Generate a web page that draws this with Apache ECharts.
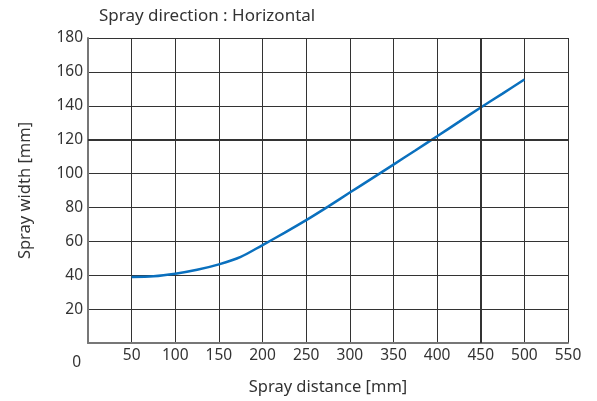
<!DOCTYPE html>
<html><head><meta charset="utf-8">
<script src="https://cdn.jsdelivr.net/npm/echarts@6/dist/echarts.min.js"></script>
<style>html,body{margin:0;padding:0;background:#fff}#c{width:597px;height:401px}</style>
</head><body><div id="c"></div>
<script>
const title = 'Spray direction : Horizontal';
const xName = 'Spray distance [mm]';
const yName = 'Spray width [mm]';
const distance = [50, 75, 100, 125, 150, 175, 200, 225, 250, 275, 300, 325, 350, 375, 400, 425, 450, 475, 500];
const width = [39, 39.4, 40.9, 43.2, 46.4, 50.8, 57.8, 65, 72.5, 80.5, 88.8, 97, 105.3, 113.6, 122, 130.5, 139, 147.2, 155.5];
const xTicks = [0, 50, 100, 150, 200, 250, 300, 350, 400, 450, 500, 550];
const yTicks = [0, 20, 40, 60, 80, 100, 120, 140, 160, 180];
const emphX = 450, emphY = 120;

const font = '"Noto Sans", "Open Sans", sans-serif';
const chart = echarts.init(document.getElementById('c'));
chart.setOption({
  animation: false,
  textStyle: { fontFamily: font },
  title: { text: title, left: 94, top: 3, textStyle: { fontSize: 17, fontWeight: 'normal', color: '#333', fontFamily: font } },
  grid: { left: 88, right: 29, top: 38, bottom: 51, containLabel: false },
  xAxis: {
    type: 'value', min: xTicks[0], max: xTicks[xTicks.length - 1], interval: 50,
    name: xName, nameLocation: 'middle', nameGap: 36,
    nameTextStyle: { fontSize: 16.5, color: '#333', fontFamily: font },
    axisLine: { lineStyle: { color: '#777', width: 2 } },
    axisTick: { show: false },
    axisLabel: { fontSize: 15.5, color: '#333', margin: 5, formatter: v => v === 0 ? '' : String(v) },
    splitLine: { lineStyle: { color: '#333', width: 1 } }
  },
  yAxis: {
    type: 'value', min: yTicks[0], max: yTicks[yTicks.length - 1], interval: 20,
    name: yName, nameLocation: 'middle', nameGap: 54,
    nameTextStyle: { fontSize: 16.5, color: '#333', fontFamily: font },
    axisLine: { show: true, lineStyle: { color: '#777', width: 2 } },
    axisTick: { show: false },
    axisLabel: { fontSize: 15.5, color: '#333', margin: 5,
      formatter: v => v === 0 ? '{z|0}' : String(v),
      rich: { z: { fontSize: 15.5, color: '#333', padding: [40, 2, 0, 0] } } },
    splitLine: { lineStyle: { color: '#333', width: 1 } }
  },
  series: [{
    type: 'line', smooth: 0.3, symbol: 'none',
    data: distance.map((d, i) => [d, width[i]]),
    lineStyle: { color: '#0a70be', width: 2.5 },
    markLine: {
      silent: true, symbol: 'none', label: { show: false },
      lineStyle: { color: '#333', width: 2, type: 'solid' },
      data: [{ xAxis: emphX }, { yAxis: emphY }]
    }
  }]
});
</script></body></html>
